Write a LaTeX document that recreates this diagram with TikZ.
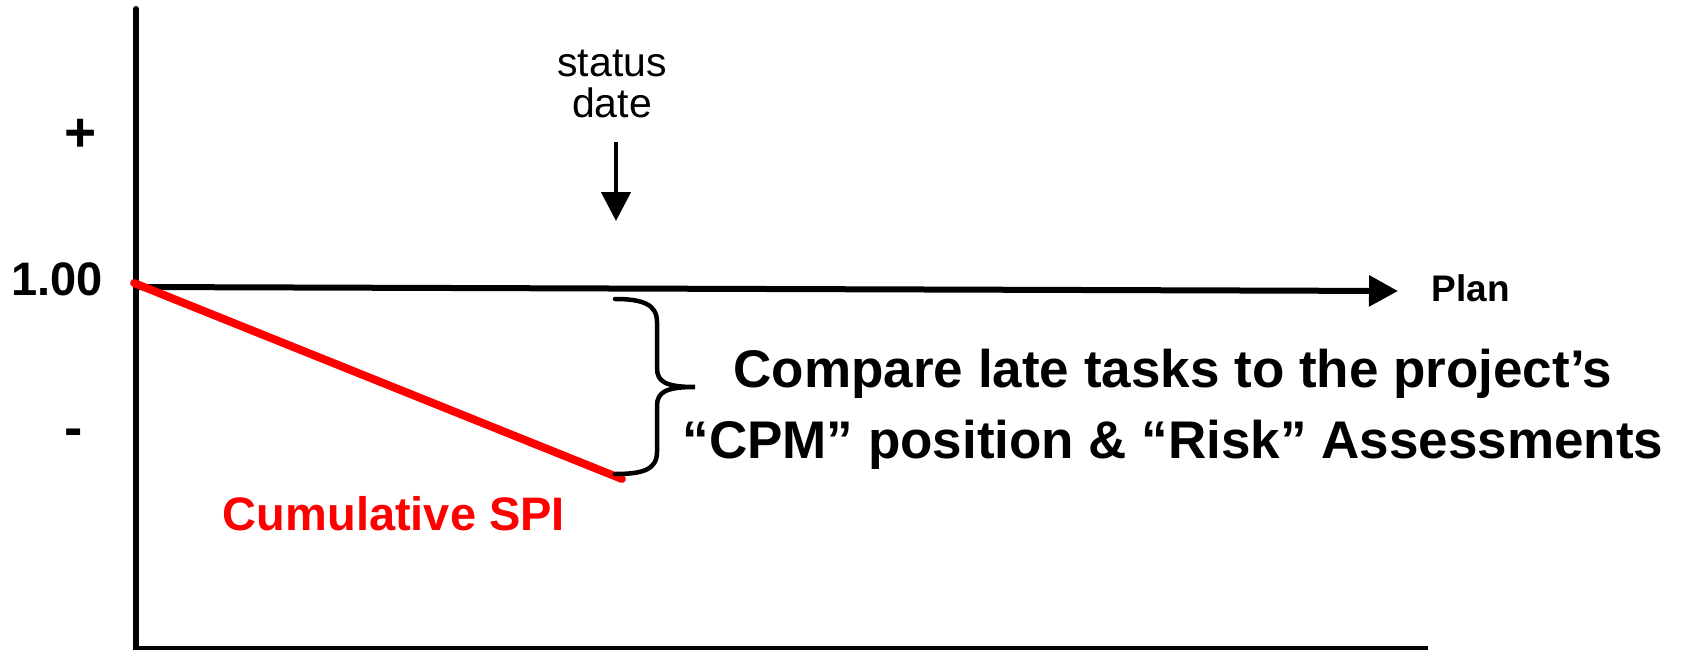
\documentclass[tikz,border=0pt]{standalone}
\usepackage{fontspec}
\setmainfont{Liberation Sans}
\usetikzlibrary{arrows.meta}
\tikzset{
  axisline/.style={line width=6pt, black},
  spiline/.style={line width=8pt, red, line cap=round},
  bracepath/.style={line width=4.5pt, black, line cap=round},
  plainlbl/.style={inner sep=0pt, anchor=base, font=\fontsize{41}{41}\selectfont},
  boldlbl/.style={inner sep=0pt, anchor=base, font=\bfseries},
  bigtip/.style={-{Triangle[length=29pt,width=30pt]}},
}
\begin{document}
\begin{tikzpicture}[x=1pt,y=-1pt]
\useasboundingbox (0,0) rectangle (1684,650);
% axes
\coordinate (top) at (136,9);
\coordinate (origin) at (136,649);
\coordinate (xend) at (1428,649);
\coordinate (p0) at (136,287);
\coordinate (p1) at (1398,291);
\draw[axisline, line cap=round] (top) -- (136,649);
\draw[axisline] (133,649) -- (xend);
\draw[axisline, bigtip] (p0) -- (p1);
% plan label
\node[boldlbl, font=\bfseries\fontsize{37}{37}\selectfont] (plan) at (1471,301) {Plan};
% y labels
\node[boldlbl, font=\bfseries\fontsize{47}{47}\selectfont] (one) at (57,295) {1.00};
\node[boldlbl, font=\bfseries\fontsize{55}{55}\selectfont] (plus) at (81,152) {+};
\node[boldlbl, font=\bfseries\fontsize{55}{55}\selectfont] (minus) at (74,446) {-};
% status date
\node[plainlbl] (status) at (612,77) {status};
\node[plainlbl] (date) at (612,118) {date};
\coordinate (sa0) at (616,142);
\coordinate (sa1) at (616,221);
\draw[line width=4.5pt, -{Triangle[length=29pt,width=29pt]}] (sa0) -- (sa1);
% cumulative SPI
\coordinate (s0) at (134,283);
\coordinate (s1) at (622,479);
\draw[spiline] (s0) -- (s1);
\node[boldlbl, red, font=\bfseries\fontsize{47}{47}\selectfont] (cspi) at (394,530) {Cumulative SPI};
% brace
\coordinate (btop) at (615,299);
\coordinate (btip) at (695,387);
\coordinate (bbot) at (615,474);
\draw[bracepath] (btop) .. controls (642,299) and (657,304) .. (657,322)
  -- (657,368) .. controls (657,382) and (666,387) .. (btip)
  .. controls (666,387) and (657,392) .. (657,406)
  -- (657,452) .. controls (657,470) and (642,474) .. (bbot);
% text
\node[boldlbl, font=\bfseries\fontsize{53}{53}\selectfont] (t1) at (1173,387) {Compare late tasks to the project’s};
\node[boldlbl, font=\bfseries\fontsize{53}{53}\selectfont] (t2) at (1173,458) {“CPM” position \& “Risk” Assessments};
\end{tikzpicture}
\end{document}
